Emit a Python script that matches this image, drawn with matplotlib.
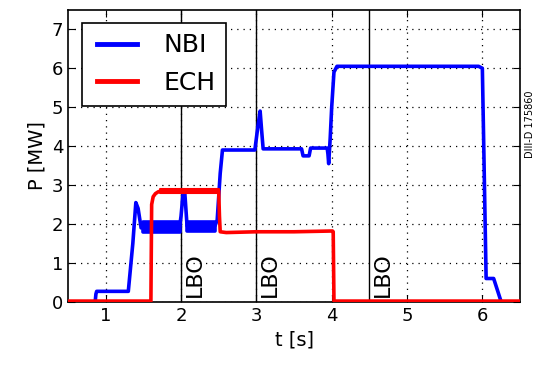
import matplotlib
matplotlib.use("Agg")
import matplotlib.pyplot as plt
from matplotlib.legend_handler import HandlerLine2D

# NBI power trace (s, MW)
nbi_t = [0.5, 0.86, 0.87, 0.88, 1.30, 1.36, 1.40, 1.43, 1.47, 1.50,
         1.98, 2.00, 2.03, 2.05, 2.08, 2.45, 2.48, 2.52, 2.55, 2.98,
         3.02, 3.05, 3.07, 3.09, 3.60, 3.62, 3.70, 3.72, 3.94, 3.95,
         3.96, 3.98, 4.00, 4.03, 4.07, 5.95, 6.00, 6.05, 6.15, 6.25, 6.5]
nbi_p = [0.0, 0.0, 0.20, 0.27, 0.27, 1.50, 2.55, 2.40, 1.90, 1.92,
         1.92, 2.20, 2.85, 2.80, 1.95, 1.95, 2.10, 3.30, 3.90, 3.90,
         4.50, 4.90, 4.40, 3.93, 3.93, 3.75, 3.75, 3.95, 3.95, 3.80,
         3.55, 4.20, 5.00, 5.90, 6.05, 6.05, 6.00, 0.60, 0.60, 0.0, 0.0]

# NBI modulation envelope (min / max) during the early phase
nbi_band_t = [1.50, 1.98, None, 2.08, 2.45]
nbi_band_lo = [1.80, 1.80, None, 1.82, 1.82]
nbi_band_hi = [2.05, 2.05, None, 2.05, 2.05]

# ECH power trace (s, MW)
ech_t = [0.5, 1.60, 1.61, 1.63, 1.66, 1.70, 1.80, 2.50, 2.51, 2.52,
         2.60, 3.00, 3.50, 4.01, 4.02, 4.03, 6.5]
ech_p = [0.02, 0.02, 2.50, 2.70, 2.78, 2.83, 2.85, 2.85, 2.20, 1.80,
         1.78, 1.80, 1.80, 1.82, 1.80, 0.02, 0.02]

# ECH ripple envelope
ech_band_t = [1.72, 2.50]
ech_band_lo = [2.80, 2.80]
ech_band_hi = [2.90, 2.90]

lbo_times = [2.0, 3.0, 4.5]
shot_label = "DIII-D 175860"

plt.rcParams["font.family"] = "DejaVu Sans"
fig, ax = plt.subplots(figsize=(5.4, 3.65), dpi=100)
fig.subplots_adjust(left=0.126, right=0.963, top=0.973, bottom=0.173)

nbi_line, = ax.plot(nbi_t, nbi_p, color="#0000ff", lw=2.6, label="NBI", zorder=3)
# split band on None so the spike gap stays open
seg = []
for t, lo, hi in zip(nbi_band_t + [None], nbi_band_lo + [None], nbi_band_hi + [None]):
    if t is None:
        if seg:
            ts, los, his = zip(*seg)
            ax.fill_between(ts, los, his, color="#0000ff", lw=2.6,
                            edgecolor="#0000ff", zorder=3)
        seg = []
    else:
        seg.append((t, lo, hi))

ech_line, = ax.plot(ech_t, ech_p, color="#ff0000", lw=2.6, label="ECH", zorder=3)
ax.fill_between(ech_band_t, ech_band_lo, ech_band_hi, color="#ff0000",
                lw=1.5, edgecolor="#ff0000", zorder=3)

for t in lbo_times:
    ax.axvline(t, color="black", lw=1.0, zorder=2)
    ax.text(t + 0.05, 0.12, "LBO", rotation=90, fontsize=16,
            ha="left", va="bottom", zorder=4)

ax.set_xlim(0.5, 6.5)
ax.set_ylim(0, 7.5)
ax.set_xticks([1, 2, 3, 4, 5, 6])
ax.set_yticks([0, 1, 2, 3, 4, 5, 6, 7])
ax.tick_params(direction="in", top=True, right=True, labelsize=13,
               length=5, width=0.8)
ax.grid(True, color="black", linestyle=(0, (1, 4)), lw=0.9)
for s in ax.spines.values():
    s.set_linewidth(1.2)

ax.set_xlabel("t [s]", fontsize=14)
ax.set_ylabel("P [MW]", fontsize=14)

pad_handler = HandlerLine2D(xpad=0.2)
leg = ax.legend(loc="upper left", fontsize=18, handlelength=1.8,
                handletextpad=1.05, fancybox=False, framealpha=1,
                edgecolor="black", borderpad=0.42, labelspacing=0.55,
                borderaxespad=0, bbox_to_anchor=(0.03, 0.955),
                handler_map={nbi_line: pad_handler, ech_line: pad_handler})
leg.get_frame().set_linewidth(1.2)
for line in leg.get_lines():
    line.set_linewidth(3.5)

fig.text(0.982, 0.66, shot_label, rotation=90, fontsize=7,
         ha="center", va="center")

fig.savefig("out.png", dpi=100)
